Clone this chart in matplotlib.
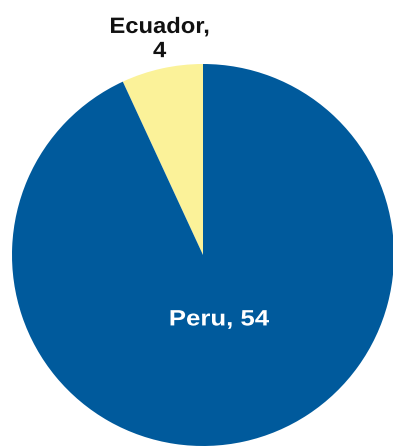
import matplotlib
matplotlib.use("Agg")
import matplotlib.pyplot as plt
from matplotlib.patheffects import AbstractPathEffect
from matplotlib.transforms import Affine2D

countries = ["Ecuador", "Peru"]
values = [4, 54]
colors = ["#FBF299", "#005A9C"]

plt.rcParams['font.family'] = ['Liberation Sans', 'DejaVu Sans']


class HStretch(AbstractPathEffect):
    """Widen each text line horizontally about its own centre."""

    def __init__(self, sx):
        super().__init__()
        self.sx = sx

    def draw_path(self, renderer, gc, tpath, affine, rgbFace=None):
        ext = tpath.get_extents()
        cx = 0.5 * (ext.x0 + ext.x1)
        t = Affine2D().translate(-cx, 0).scale(self.sx, 1).translate(cx, 0) + affine
        renderer.draw_path(gc, tpath, t, rgbFace)


fig = plt.figure(figsize=(3.93, 4.47), dpi=100)
ax = fig.add_axes([12 / 393, 1 / 447, 382 / 393, 382 / 447])
wedges, _ = ax.pie(values, colors=colors, startangle=90, counterclock=True,
                   radius=1.0, wedgeprops=dict(linewidth=0))
ax.set_xlim(-1, 1)
ax.set_ylim(-1, 1)
ax.set_aspect('equal')
ax.axis('off')

# slice labels
ax.text(-0.227, 1.128, f"{countries[0]},\n{values[0]}", ha='center', va='center',
        fontsize=16, fontweight='bold', color='#111111', linespacing=1.2,
        clip_on=False, path_effects=[HStretch(1.07)])
ax.text(0.084, -0.34, f"{countries[1]}, {values[1]}", ha='center', va='center',
        fontsize=16, fontweight='bold', color='white',
        path_effects=[HStretch(1.16)])

fig.savefig("out.png", dpi=100)
